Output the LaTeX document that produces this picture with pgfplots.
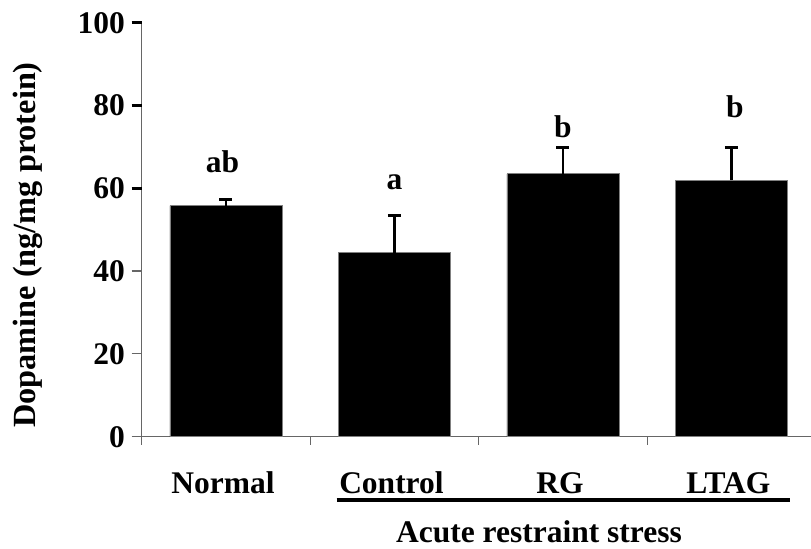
\documentclass[border=0pt]{standalone}
\usepackage{fontspec}
\setmainfont{Liberation Serif}
\usepackage{pgfplots}
\pgfplotsset{compat=1.18}
\newcommand{\lbl}{\bfseries\fontsize{31.5bp}{36bp}\selectfont}
\begin{document}
\begin{tikzpicture}[x=1bp,y=1bp]
\useasboundingbox (0,0) rectangle (811,549);
\begin{axis}[
  at={(141.7bp,112.3bp)}, anchor=south west,
  scale only axis, width=669.8bp, height=414bp,
  xmin=-0.5, xmax=3.475, ymin=0, ymax=100,
  axis lines*=left,
  axis line style={black!60, line width=1.3bp},
  clip=false,
  tick align=outside,
  major tick length=10bp,
  minor tick length=8bp,
  ytick={0,20,40},
  ytick style={black!60, line width=1.2bp},
  extra y ticks={60,80,100},
  extra y tick style={ytick style={black, line width=2.8bp}},
  xtick={0,1,2,3},
  xticklabels={Normal,Control,RG,LTAG},
  major x tick style={draw=none},
  minor xtick={-0.5,0.5,1.5,2.5},
  minor x tick style={black!60, line width=1bp},
  tick label style={font=\lbl},
  /pgf/number format/assume math mode=true,
  xticklabel style={anchor=base, yshift=-47.3bp, xshift=-3bp},
  yticklabel style={anchor=east, xshift=-3.2bp},
  ybar, bar width=112bp, bar shift=0pt,
]
\addplot[fill=black, draw=black!50, line width=0.8bp,
  error bars/.cd, y dir=plus, y explicit,
  error bar style={black, line width=2.5bp},
  error mark options={black, rotate=90, mark size=6.5bp, line width=3bp}]
  table[x=x, y=y, y error=err] {
x y err
0 55.8 1.6
1 44.4 9.1
2 63.5 6.4
3 61.9 8.0
};
\node[anchor=base, font=\lbl] at (axis cs:-0.02,63.8) {ab};
\node[anchor=base, font=\lbl] at (axis cs:1,59.6) {a};
\node[anchor=base, font=\lbl] at (axis cs:2,72.3) {b};
\node[anchor=base, font=\lbl] at (axis cs:3.02,77.1) {b};
\end{axis}
\draw[line width=3.3bp] (336.6,49) -- (790.4,49);
\node[anchor=base, font=\lbl] at (539,6.3) {Acute restraint stress};
\node[rotate=90, anchor=base, font=\bfseries\fontsize{32.3bp}{37bp}\selectfont] at (35,304) {Dopamine (ng/mg protein)};
\end{tikzpicture}
\end{document}
